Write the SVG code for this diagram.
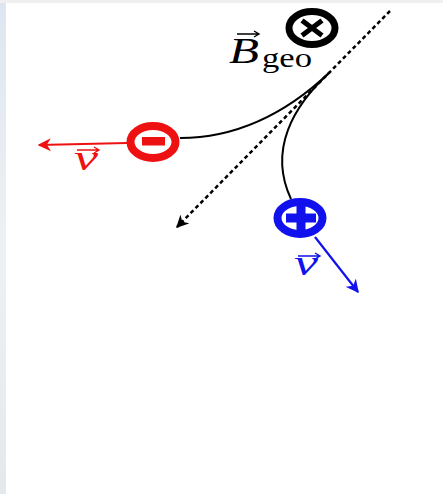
<svg xmlns="http://www.w3.org/2000/svg" width="443" height="494" viewBox="0 0 443 494">
<defs>
<linearGradient id="side" x1="0" y1="0" x2="0" y2="1">
<stop offset="0" stop-color="#dde6ef"/>
<stop offset="0.5" stop-color="#eef1f4"/>
<stop offset="1" stop-color="#e4e8ec"/>
</linearGradient>
<marker id="ahBlack" viewBox="0 0 10 10" refX="9" refY="5" markerWidth="5" markerHeight="5" markerUnits="strokeWidth" orient="auto"><path d="M0,0 L10,5 L0,10 L3,5 Z" fill="#000"/></marker>
<marker id="ahRed" viewBox="0 0 10 10" refX="9" refY="5" markerWidth="6" markerHeight="6" markerUnits="strokeWidth" orient="auto"><path d="M0,0 L10,5 L0,10 L3,5 Z" fill="#ee1111"/></marker>
<marker id="ahBlue" viewBox="0 0 10 10" refX="9" refY="5" markerWidth="6" markerHeight="6" markerUnits="strokeWidth" orient="auto"><path d="M0,0 L10,5 L0,10 L3,5 Z" fill="#1111ee"/></marker>
</defs>
<style>
.trk{fill:none;stroke:#000;stroke-width:2}
.lbl{font-family:"Liberation Serif","DejaVu Serif",serif;font-style:italic}
.sub{font-family:"Liberation Serif","DejaVu Serif",serif}
.acc{fill:none;stroke-width:1.4}
</style>
<rect x="0" y="0" width="443" height="494" fill="#efefef"/>
<rect x="0" y="3" width="6" height="491" fill="url(#side)"/>
<rect x="6" y="3" width="437" height="491" fill="#ffffff"/>
<g id="connectors">
<line x1="390" y1="11" x2="177" y2="227" stroke="#000" stroke-width="2.5" stroke-dasharray="4,3" marker-end="url(#ahBlack)"/>
<path class="trk" d="M330,72 C290,110 240,138 180,138"/>
<path class="trk" d="M330,72 C293,106 268,150 291,199"/>
<line x1="127" y1="143" x2="39" y2="145" stroke="#ee1111" stroke-width="2.2" marker-end="url(#ahRed)"/>
<line x1="315" y1="237" x2="358" y2="292" stroke="#1111ee" stroke-width="2.2" marker-end="url(#ahBlue)"/>
</g>
<g id="bfield">
<ellipse cx="312" cy="28" rx="23" ry="16.5" fill="#fff" stroke="#000" stroke-width="7"/>
<path d="M302,20.5 L322,35.5 M322,20.5 L302,35.5" stroke="#000" stroke-width="5"/>
<text class="lbl" x="229" y="63" font-size="35" textLength="30" lengthAdjust="spacingAndGlyphs">B</text>
<path class="acc" stroke="#000" d="M237,34 L258,34 M254,31 L259,34 L254,37"/>
<text class="sub" x="262" y="67" font-size="28" textLength="50" lengthAdjust="spacingAndGlyphs">geo</text>
</g>
<g id="electron">
<ellipse cx="153" cy="142" rx="22.5" ry="16" fill="#fff" stroke="#ee1111" stroke-width="8"/>
<rect x="142" y="137" width="23" height="8.5" fill="#ee1111"/>
<text class="lbl" x="74" y="170" font-size="36" fill="#ee1111" textLength="24" lengthAdjust="spacingAndGlyphs">v</text>
<path class="acc" stroke="#ee1111" d="M77,150 L98,150 M94,147 L99,150 L94,153"/>
</g>
<g id="positron">
<ellipse cx="300" cy="218" rx="22.5" ry="16" fill="#fff" stroke="#1111ee" stroke-width="8"/>
<path d="M286,213.5 H296.5 V206 H305.5 V213.5 H316 V222.5 H305.5 V230 H296.5 V222.5 H286 Z" fill="#1111ee"/>
<text class="lbl" x="294" y="275" font-size="36" fill="#1111ee" textLength="24" lengthAdjust="spacingAndGlyphs">v</text>
<path class="acc" stroke="#1111ee" d="M298,256 L319,256 M315,253 L320,256 L315,259"/>
</g>
</svg>
